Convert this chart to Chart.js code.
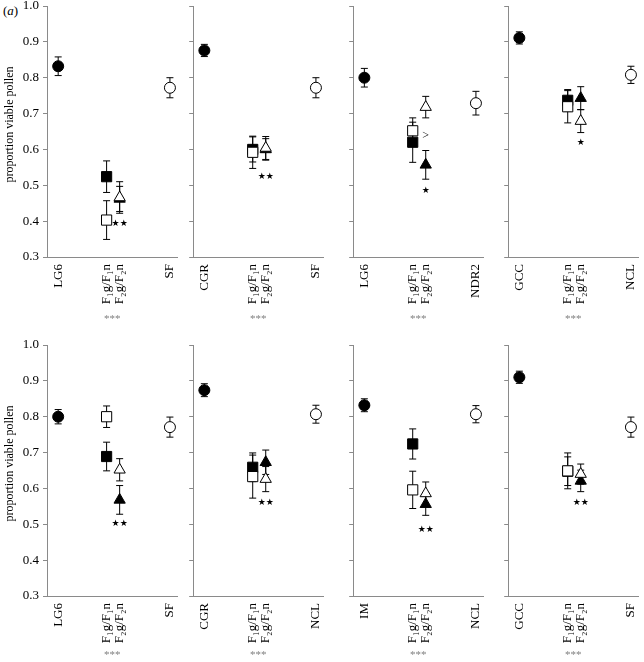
<!DOCTYPE html>
<html><head><meta charset="utf-8">
<script src="https://cdn.jsdelivr.net/npm/chart.js@4"></script>
<style>
html,body{margin:0;padding:0;background:#fff;}
#wrap{position:relative;width:644px;height:662px;overflow:hidden;background:#fff;}
#wrap canvas{position:absolute;}
#tag{position:absolute;left:3px;top:3px;font:13px "Liberation Serif",serif;color:#000;}
</style></head><body>
<div id="wrap"><div id="tag">(<i>a</i>)</div></div>
<script>
// ---- data ----
const parentA = ['LG6','CGR','LG6','GCC','LG6','CGR','IM','GCC'];
const parentB = ['SF','SF','NDR2','NCL','SF','NCL','NCL','SF'];
const hybridLabels = ['F\u2081g/F\u2081n','F\u2082g/F\u2082n'];
const yTicks = [0.3,0.4,0.5,0.6,0.7,0.8,0.9,1.0];
const yTitle = 'proportion viable pollen';

const parentAMean = [0.832,0.876,0.800,0.911,0.800,0.874,0.832,0.910];
const parentAErr  = [0.026,0.017,0.026,0.017,0.020,0.018,0.018,0.017];
const f1gMean = [0.524,0.600,0.620,0.737,0.689,0.659,0.724,0.648];
const f1gErr  = [0.044,0.035,0.056,0.030,0.040,0.040,0.042,0.040];
const f1nMean = [0.403,0.592,0.652,0.719,0.800,0.633,0.596,0.649];
const f1nErr  = [0.054,0.045,0.036,0.045,0.030,0.060,0.052,0.050];
const f2gMean = [0.462,0.600,0.557,0.743,0.568,0.673,0.556,0.621];
const f2gErr  = [0.035,0.030,0.040,0.032,0.040,0.034,0.031,0.030];
const f2nMean = [0.466,0.604,0.718,0.679,0.652,0.626,0.586,0.640];
const f2nErr  = [0.044,0.032,0.030,0.032,0.031,0.035,0.032,0.028];
const parentBMean = [0.772,0.772,0.729,0.808,0.771,0.807,0.807,0.771];
const parentBErr  = [0.028,0.028,0.033,0.024,0.028,0.025,0.024,0.028];
const sigStars = ['\u2605\u2605','\u2605\u2605','\u2605','\u2605','\u2605\u2605','\u2605\u2605','\u2605\u2605','\u2605\u2605'];
const sigY = [0.394,0.525,0.485,0.618,0.501,0.560,0.484,0.560];
const compMark = ['','','>','','','','',''];
const compY = [null,null,0.637,null,null,null,null,null];
const groupSig = ['***','***','***','***','***','***','***','***'];

// ---- layout (pixels) ----
const axisX = [47,193,352.5,507.5];
const rowTop = [6,345];
const xAxisH = [69,66];
const plotH = 249, plotW = 140;
const xPos = [12,64,78,132];
const SERIF = '"Liberation Serif", "Times New Roman", serif';
const AXIS = '#8a8a8a';

const errorBars = {
  id:'errorBars',
  beforeDatasetsDraw(chart){
    const {ctx, scales:{x,y}} = chart;
    ctx.save(); ctx.strokeStyle='#000'; ctx.lineWidth=1;
    chart.data.datasets.forEach(ds=>ds.data.forEach(d=>{
      const px = x.getPixelForValue(d.x);
      const t = y.getPixelForValue(d.y+d.e), b = y.getPixelForValue(d.y-d.e);
      ctx.beginPath();
      ctx.moveTo(px,t); ctx.lineTo(px,b);
      ctx.moveTo(px-3.5,t); ctx.lineTo(px+3.5,t);
      ctx.moveTo(px-3.5,b); ctx.lineTo(px+3.5,b);
      ctx.stroke();
    }));
    ctx.restore();
  }
};
const notes = {
  id:'notes',
  afterDatasetsDraw(chart){
    const o = chart.options.plugins.notes;
    const i = o.panel;
    const {ctx, scales:{x,y}, chartArea} = chart;
    ctx.save();
    ctx.textAlign='center'; ctx.textBaseline='middle'; ctx.fillStyle='#000';
    ctx.font = '9px "DejaVu Sans", sans-serif';
    ctx.fillText(sigStars[i], x.getPixelForValue(xPos[2]), y.getPixelForValue(sigY[i]));
    if (compMark[i]) {
      ctx.font = '12px ' + SERIF;
      ctx.fillStyle = '#000';
      ctx.fillText(compMark[i], x.getPixelForValue(xPos[2]), y.getPixelForValue(compY[i]));
    }
    if (o.yTitle) {
      ctx.save();
      ctx.translate(10, (chartArea.top + chartArea.bottom)/2 - 7);
      ctx.rotate(-Math.PI/2);
      ctx.font = '12px ' + SERIF;
      ctx.fillStyle = '#000';
      ctx.fillText(yTitle, 0, 0);
      ctx.restore();
    }
    ctx.restore();
  }
};

const wrap = document.getElementById('wrap');
for (let i=0;i<8;i++){
  const row = Math.floor(i/4), col = i%4, first = col===0;
  const leftW = first ? 47 : 8;
  const padTop = 20, padRight = 6;
  const W = leftW + plotW + padRight;
  const H = padTop + plotH + xAxisH[row] + 2;
  const c = document.createElement('canvas');
  c.width = W; c.height = H;
  c.style.left = (axisX[col]-leftW)+'px';
  c.style.top = (rowTop[row]-padTop)+'px';
  wrap.appendChild(c);
  const tickLabels = [parentA[i], hybridLabels[0], hybridLabels[1], parentB[i]];
  const open = {backgroundColor:'#fff', borderColor:'#000', borderWidth:1};
  const fill = {backgroundColor:'#000', borderColor:'#000', borderWidth:1};
  new Chart(c, {
    type:'scatter',
    data:{datasets:[
      {label:parentB[i], data:[{x:xPos[3], y:parentBMean[i], e:parentBErr[i]}], pointStyle:'circle', pointRadius:5.5, ...open},
      {label:'F2n', data:[{x:xPos[2], y:f2nMean[i], e:f2nErr[i]}], pointStyle:'triangle', pointRadius:6.5, ...open},
      {label:'F1n', data:[{x:xPos[1], y:f1nMean[i], e:f1nErr[i]}], pointStyle:'rect', pointRadius:7.2, ...open},
      {label:parentA[i], data:[{x:xPos[0], y:parentAMean[i], e:parentAErr[i]}], pointStyle:'circle', pointRadius:5.5, ...fill},
      {label:'F2g', data:[{x:xPos[2], y:f2gMean[i], e:f2gErr[i]}], pointStyle:'triangle', pointRadius:6.5, ...fill},
      {label:'F1g', data:[{x:xPos[1], y:f1gMean[i], e:f1gErr[i]}], pointStyle:'rect', pointRadius:7.2, ...fill}
    ]},
    options:{
      responsive:false, animation:false, devicePixelRatio:1,
      layout:{padding:{top:padTop, right:padRight, left:0, bottom:0}},
      plugins:{legend:{display:false}, tooltip:{enabled:false}, notes:{panel:i, yTitle:first}},
      elements:{point:{hoverRadius:0}},
      scales:{
        x:{type:'linear', min:0, max:plotW,
          afterBuildTicks:s=>{ s.ticks = xPos.map(v=>({value:v})); },
          afterFit:s=>{ s.height = xAxisH[row]; },
          grid:{display:true, drawOnChartArea:false, drawTicks:false},
          border:{display:true, color:AXIS, width:1},
          ticks:{autoSkip:false, minRotation:90, maxRotation:90, padding:7, color:'#000',
            font:{family:SERIF, size:13}, callback:(v,idx)=>tickLabels[idx]},
          title:{display:true, text:groupSig[i], color:'#808080', font:{family:SERIF, size:11}, padding:{top:0,bottom:0}}
        },
        y:{type:'linear', min:0.3, max:1.0,
          afterBuildTicks:s=>{ s.ticks = yTicks.map(v=>({value:v})); },
          afterFit:s=>{ s.width = leftW; },
          grid:{display:true, drawOnChartArea:false, drawTicks:true, tickLength:4, color:AXIS},
          border:{display:true, color:AXIS, width:1},
          ticks:{display:first, padding:4, color:'#000', font:{family:SERIF, size:13}, callback:v=>v.toFixed(1)},
          title:{display:false}
        }
      }
    },
    plugins:[errorBars, notes]
  });
}
</script>
</body></html>
